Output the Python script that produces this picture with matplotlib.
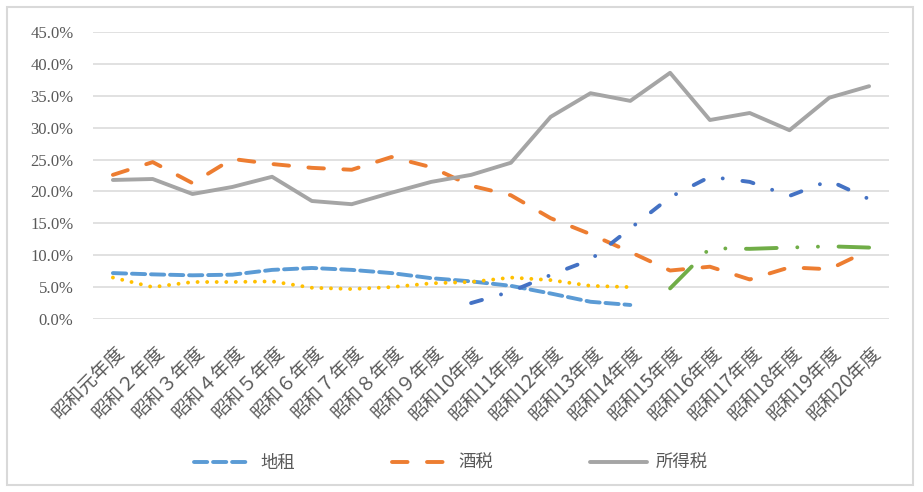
import numpy as np
import matplotlib
matplotlib.use("Agg")
import matplotlib.pyplot as plt
from matplotlib.patches import Rectangle
from matplotlib.transforms import ScaledTranslation
from matplotlib.ticker import PercentFormatter

nan = np.nan

categories = ["昭和元年度", "昭和２年度", "昭和３年度", "昭和４年度", "昭和５年度",
              "昭和６年度", "昭和７年度", "昭和８年度", "昭和９年度", "昭和10年度",
              "昭和11年度", "昭和12年度", "昭和13年度", "昭和14年度", "昭和15年度",
              "昭和16年度", "昭和17年度", "昭和18年度", "昭和19年度", "昭和20年度"]

chiso = [7.2, 7.0, 6.85, 6.95, 7.7, 8.0, 7.7, 7.2, 6.4, 5.9,
         5.2, 4.0, 2.7, 2.2, nan, nan, nan, nan, nan, nan]
shuzei = [22.6, 24.6, 21.3, 25.1, 24.3, 23.7, 23.4, 25.4, 23.8, 20.9,
          19.4, 15.8, 13.3, 10.5, 7.6, 8.2, 6.2, 8.1, 7.8, 10.8]
shotoku = [21.8, 21.95, 19.6, 20.7, 22.3, 18.5, 18.0, 19.8, 21.5, 22.6,
           24.5, 31.7, 35.4, 34.2, 38.6, 31.2, 32.3, 29.6, 34.7, 36.5]
series_yellow = [6.5, 5.0, 5.8, 5.8, 5.9, 4.9, 4.7, 5.0, 5.6, 5.8,
                 6.5, 6.1, 5.2, 5.0, nan, nan, nan, nan, nan, nan]
series_blue = [nan, nan, nan, nan, nan, nan, nan, nan, nan, 2.5,
               4.3, 6.9, 9.3, 14.2, 19.1, 22.3, 21.5, 19.3, 21.7, 18.8]
series_green = [nan, nan, nan, nan, nan, nan, nan, nan, nan, nan,
                nan, nan, nan, nan, 4.8, 11.1, 11.0, 11.2, 11.4, 11.2]

legend_labels = ["地租", "酒税", "所得税"]

W, H = 923, 492
fig = plt.figure(figsize=(W / 100, H / 100), dpi=100)
fig.patch.set_facecolor("white")
ax = fig.add_axes([93 / W, 1 - 319 / H, (889 - 93) / W, (319 - 32) / H])

x = np.arange(len(categories))
lw = 2.8
common = dict(linewidth=lw, dash_capstyle="round", solid_capstyle="round",
              solid_joinstyle="round", dash_joinstyle="round")

ax.plot(x, chiso, color="#5B9BD5", linestyle=(0, (3.4, 1.5)), label=legend_labels[0], zorder=3, **common)
ax.plot(x, shuzei, color="#ED7D31", linestyle=(0, (4.0, 5.0)), label=legend_labels[1], zorder=3, **common)
ax.plot(x, shotoku, color="#A5A5A5", linestyle="-", label=legend_labels[2], zorder=3, **common)
ax.plot(x, series_yellow, color="#FFC000", linestyle=(0, (0.01, 2.45)), label="_nolegend_", zorder=3, **common)
ax.plot(x, series_blue, color="#4472C4", linestyle=(0, (2.9, 5.1, 0.01, 5.1)), label="_nolegend_", zorder=3, **common)
ax.plot(x, series_green, color="#70AD47", linestyle=(0, (7.9, 5.3, 0.01, 5.3, 0.01, 5.3)), label="_nolegend_", zorder=3, **common)

ax.set_xlim(-0.5, len(categories) - 0.5)
ax.set_ylim(0, 45)
ax.set_yticks(np.arange(0, 46, 5))
ax.yaxis.set_major_formatter(PercentFormatter(decimals=1))
ax.grid(axis="y", color="#D9D9D9", linewidth=1.1)
ax.set_axisbelow(True)
for s in ax.spines.values():
    s.set_visible(False)

ax.tick_params(axis="y", length=0, pad=14, labelcolor="#595959")
for lab in ax.get_yticklabels():
    lab.set_fontfamily(["Liberation Serif", "DejaVu Serif"])
    lab.set_fontsize(12)

ax.set_xticks(x)
ax.set_xticklabels(categories, rotation=45, ha="right", va="top",
                   rotation_mode="anchor", fontsize=13.5,
                   family=["Noto Sans CJK JP", "DejaVu Sans"], color="#595959")
ax.tick_params(axis="x", length=0, pad=17)
offset = ScaledTranslation(2 / 100, 0, fig.dpi_scale_trans)
for lab in ax.get_xticklabels():
    lab.set_transform(lab.get_transform() + offset)

leg = fig.legend(loc="center", bbox_to_anchor=(451 / W, 1 - 463 / H), ncol=3,
                 frameon=False, handlelength=3.3, handletextpad=0.5,
                 columnspacing=5.6, prop={"family": ["Noto Sans CJK JP", "DejaVu Sans"], "size": 12.5})
for t in leg.get_texts():
    t.set_color("#595959")

fig.patches.append(Rectangle((7 / W, 1 - 485 / H), (913 - 7) / W, (485 - 7) / H,
                             transform=fig.transFigure, fill=False,
                             edgecolor="#D9D9D9", linewidth=1.5, zorder=0))

fig.savefig("out.png", dpi=100, facecolor="white")
